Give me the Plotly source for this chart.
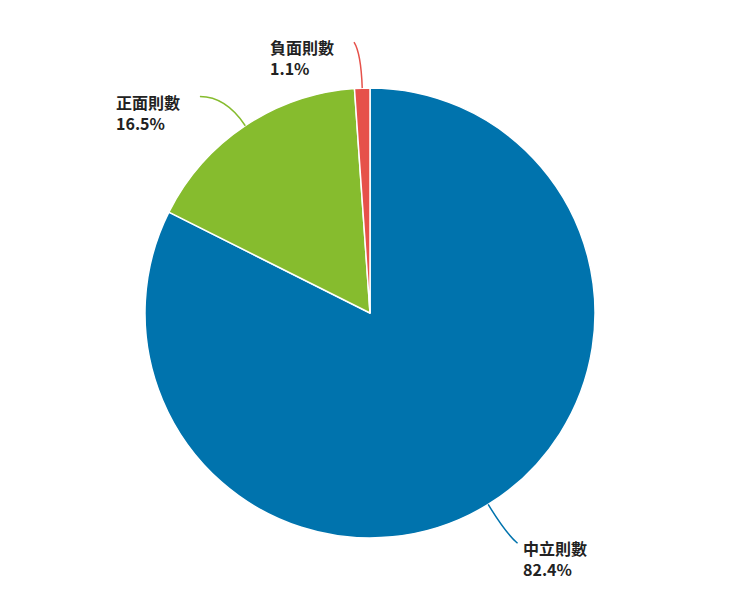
import math
import plotly.graph_objects as go

labels = ['中立則數', '正面則數', '負面則數']
values = [82.4, 16.5, 1.1]
colors = ['#0073ad', '#86bc2e', '#e6514a']

W, H = 740, 592
mt, mb, mr = 80, 62, 16
cx, cy, R = (W - mr) / 2, mt + (H - mt - mb) / 2, (H - mt - mb) / 2

fig = go.Figure(go.Pie(
    labels=labels, values=values, sort=False, direction='clockwise', rotation=0,
    marker=dict(colors=colors, line=dict(color='white', width=1.5)),
    textinfo='none', hoverinfo='label+percent', showlegend=False,
))


def to_paper(px, py):
    return px / (W - mr), (H - mb - py) / (H - mt - mb)


total = sum(values)
acc = 0
for lab, v, col in zip(labels, values, colors):
    mid = (acc + v / 2) / total * 2 * math.pi
    acc += v
    dx, dy = math.sin(mid), -math.cos(mid)
    x0, y0 = cx + R * dx, cy + R * dy
    x1, y1 = cx + (R + 35) * dx, cy + (R + 35) * dy
    right = dx > 0.05
    x2 = x1 + (11 if right else -26 if abs(dx) > 0.3 else -7)
    y2 = y1 + (9 if dy > 0 else 0 if abs(dx) > 0.3 else -11)
    p0, p1, p2 = to_paper(x0, y0), to_paper(x1, y1), to_paper(x2, y2)
    fig.add_shape(type='path', xref='paper', yref='paper',
                  path=f'M {p0[0]},{p0[1]} Q {p1[0]},{p1[1]} {p2[0]},{p2[1]}',
                  line=dict(color=col, width=1.5))
    tx, ty = to_paper(x2 + 3 if right else x2 - 18, y2 - 9)
    fig.add_annotation(xref='paper', yref='paper', x=tx, y=ty, showarrow=False,
                       xanchor='left' if right else 'right', yanchor='top', align='left',
                       text=f'{lab}<br>{v}%',
                       font=dict(family='Noto Sans CJK TC', size=16, color='#222222', weight='bold'))

fig.update_layout(width=W, height=H, margin=dict(l=0, r=mr, t=mt, b=mb),
                  paper_bgcolor='white', plot_bgcolor='white')
fig.write_html('out.html')
